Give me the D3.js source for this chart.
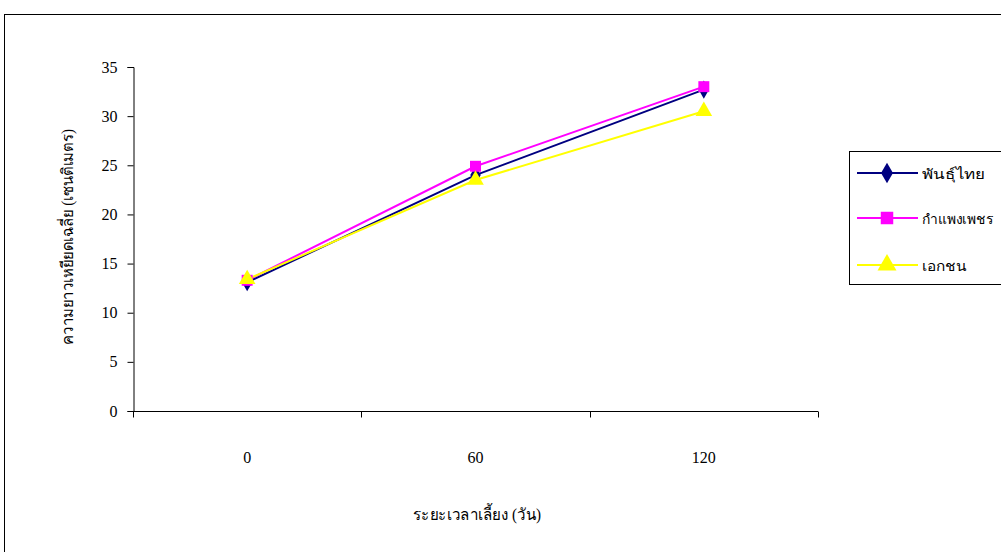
<!DOCTYPE html>
<html>
<head>
<meta charset="utf-8">
<script src="https://cdn.jsdelivr.net/npm/d3@7"></script>
<style>
  html, body { margin: 0; padding: 0; background: #fff; }
  svg { display: block; }
  text { font-family: "Liberation Serif", "DejaVu Serif", serif; fill: #000; }
</style>
</head>
<body>
<svg id="chart" width="1001" height="552"></svg>
<script>
// Days of rearing
const days = ["0", "60", "120"];
// Mean stretched length (cm) per variety
const seriesNames = ["พันธุ์ไทย", "กำแพงเพชร", "เอกชน"];
const thaiValues = [13.1, 24.0, 32.7];
const kamphaengValues = [13.3, 24.9, 33.0];
const privateValues = [13.4, 23.5, 30.5];
const yTicks = [0, 5, 10, 15, 20, 25, 30, 35];

const serifFont = '"Liberation Serif", "DejaVu Serif", serif';

const series = [
  { name: seriesNames[0], values: thaiValues, color: "#000080", shape: d3.symbolDiamond, size: 95, labelWidth: 63 },
  { name: seriesNames[1], values: kamphaengValues, color: "#FF00FF", shape: d3.symbolSquare, size: 120, labelWidth: 72 },
  { name: seriesNames[2], values: privateValues, color: "#FFFF00", shape: d3.symbolTriangle, size: 120, labelWidth: 45 }
];

const svg = d3.select("#chart");

// Chart area frame
svg.append("rect")
  .attr("x", 4.5).attr("y", 14.5)
  .attr("width", 1010).attr("height", 560)
  .attr("fill", "none").attr("stroke", "#000").attr("stroke-width", 1);

const plot = { left: 133, right: 818, top: 67, bottom: 411 };

const x = d3.scaleBand().domain(days).range([plot.left, plot.right]);
const y = d3.scaleLinear().domain([0, 35]).range([plot.bottom, plot.top]);

// Y axis
const yAxis = svg.append("g")
  .attr("transform", `translate(${plot.left + 0.5},0)`)
  .call(d3.axisLeft(y).tickValues(yTicks).tickSize(6).tickPadding(10));
yAxis.attr("font-family", serifFont).attr("font-size", 16);
yAxis.selectAll("text").style("font-family", serifFont).style("font-size", "16px");
yAxis.selectAll("line, path").attr("stroke", "#000");

// X axis: ticks on band boundaries, labels at band centres
const xg = svg.append("g").attr("transform", `translate(0,${plot.bottom + 0.5})`);
xg.append("line")
  .attr("x1", plot.left).attr("x2", plot.right)
  .attr("stroke", "#000");
const boundaries = days.map(d => x(d)).concat([x(days[days.length - 1]) + x.bandwidth()]);
xg.selectAll("line.tick").data(boundaries).enter().append("line")
  .attr("class", "tick")
  .attr("x1", d => Math.round(d) + 0.5).attr("x2", d => Math.round(d) + 0.5)
  .attr("y1", 0).attr("y2", 6).attr("stroke", "#000");
xg.selectAll("text").data(days).enter().append("text")
  .attr("x", d => x(d) + x.bandwidth() / 2)
  .attr("y", 51)
  .attr("text-anchor", "middle")
  .style("font-family", serifFont)
  .style("font-size", "16px")
  .text(d => d);

// Axis titles
svg.append("text")
  .attr("x", 413).attr("y", 520)
  .attr("textLength", 128).attr("lengthAdjust", "spacingAndGlyphs")
  .style("font-size", "16px")
  .text("ระยะเวลาเลี้ยง (วัน)");
svg.append("text")
  .attr("transform", "translate(73,345) rotate(-90)")
  .attr("textLength", 216).attr("lengthAdjust", "spacingAndGlyphs")
  .style("font-size", "16px")
  .text("ความยาวเหยียดเฉลี่ย (เซนติเมตร)");

// Series lines and markers
const cx = d => x(d) + x.bandwidth() / 2;
const line = d3.line().x((v, i) => cx(days[i])).y(v => y(v));

series.forEach(s => {
  svg.append("path")
    .datum(s.values)
    .attr("d", line)
    .attr("fill", "none")
    .attr("stroke", s.color)
    .attr("stroke-width", 2);
});
series.forEach(s => {
  svg.selectAll(null).data(s.values).enter().append("path")
    .attr("transform", (v, i) => `translate(${cx(days[i])},${y(v)})`)
    .attr("d", d3.symbol().type(s.shape).size(s.size))
    .attr("fill", s.color);
});

// Legend
const legend = svg.append("g");
legend.append("rect")
  .attr("x", 849.5).attr("y", 151.5)
  .attr("width", 170).attr("height", 133)
  .attr("fill", "#fff").attr("stroke", "#000");
const legendY = [173, 218, 265];
series.forEach((s, i) => {
  const g = legend.append("g").attr("transform", `translate(0,${legendY[i]})`);
  g.append("line").attr("x1", 857).attr("x2", 918)
    .attr("stroke", s.color).attr("stroke-width", 2);
  g.append("path").attr("transform", "translate(887,0)")
    .attr("d", d3.symbol().type(s.shape).size(s.size * 1.3))
    .attr("fill", s.color);
  g.append("text").attr("x", 922).attr("y", 6)
    .attr("textLength", s.labelWidth).attr("lengthAdjust", "spacingAndGlyphs")
    .style("font-size", "14px")
    .text(s.name);
});
</script>
</body>
</html>
